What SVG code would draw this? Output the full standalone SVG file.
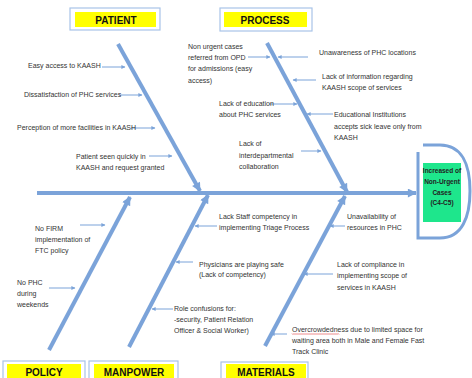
<svg xmlns="http://www.w3.org/2000/svg" width="472" height="378" viewBox="0 0 472 378">
<style>
.t{font-family:"Liberation Sans Narrow","Liberation Sans",Arial,sans-serif;font-size:7px;fill:#333}
.h{font-family:"Liberation Sans Narrow","Liberation Sans",Arial,sans-serif;font-size:10px;font-weight:bold;fill:#111;text-anchor:middle}
.g{font-family:"Liberation Sans Narrow","Liberation Sans",Arial,sans-serif;font-size:6.5px;font-weight:bold;fill:#222;text-anchor:middle}
.bone{stroke:#7ba3d9;stroke-width:4;fill:none;marker-end:url(#big)}
.thin{stroke:#7ba3d9;stroke-width:1;fill:none;marker-end:url(#small)}
.ob{fill:#fff;stroke:#a8c4e8;stroke-width:1.2}
.yb{fill:#ffff00}
</style>
<defs>
<marker id="big" viewBox="0 0 10 10" refX="9" refY="5" markerWidth="10" markerHeight="9" markerUnits="userSpaceOnUse" orient="auto"><path d="M0,0 L10,5 L0,10 z" fill="#7ba3d9"/></marker>
<marker id="small" viewBox="0 0 10 10" refX="9" refY="5" markerWidth="5" markerHeight="4" markerUnits="userSpaceOnUse" orient="auto"><path d="M0,0 L10,5 L0,10 z" fill="#7ba3d9"/></marker>
</defs>
<rect width="472" height="378" fill="#fff"/>

<g id="connectors">
<line class="bone" x1="37" y1="193" x2="416" y2="193"/>
<line class="bone" x1="118" y1="44" x2="200" y2="191"/>
<line class="bone" x1="267" y1="43" x2="347" y2="192"/>
<line class="bone" x1="49" y1="350" x2="130" y2="197"/>
<line class="bone" x1="129" y1="347" x2="208" y2="195"/>
<line class="bone" x1="265" y1="346" x2="345" y2="196"/>
<line class="thin" x1="102" y1="67" x2="125" y2="67"/>
<line class="thin" x1="119" y1="95" x2="142" y2="95"/>
<line class="thin" x1="131" y1="128" x2="155" y2="128"/>
<line class="thin" x1="149" y1="156" x2="172" y2="156"/>
<line class="thin" x1="248" y1="57" x2="270" y2="57"/>
<line class="thin" x1="308" y1="57" x2="278" y2="57"/>
<line class="thin" x1="316" y1="80" x2="293" y2="80"/>
<line class="thin" x1="269" y1="104" x2="297" y2="104"/>
<line class="thin" x1="333" y1="114" x2="307" y2="114"/>
<line class="thin" x1="301" y1="151" x2="321" y2="151"/>
<line class="thin" x1="80" y1="225" x2="105" y2="225"/>
<line class="thin" x1="49" y1="288" x2="75" y2="288"/>
<line class="thin" x1="217" y1="226" x2="195" y2="226"/>
<line class="thin" x1="193" y1="262" x2="176" y2="262"/>
<line class="thin" x1="173" y1="309" x2="152" y2="309"/>
<line class="thin" x1="345" y1="226" x2="330" y2="226"/>
<line class="thin" x1="333" y1="274" x2="304" y2="274"/>
<line class="thin" x1="287" y1="334" x2="271" y2="334"/>
</g>

<g id="head">
<path d="M423,145 H440 C462,145 470,165 470,191 C470,217 462,238 440,238 H418 V152" fill="none" stroke="#7ba3d9" stroke-width="3"/>
<rect x="423" y="163" width="38" height="59" fill="#1ee68c"/>
<text class="g" x="442" y="172.5">Increased of</text>
<text class="g" x="442" y="183.5">Non-Urgent</text>
<text class="g" x="442" y="194.5">Cases</text>
<text class="g" x="442" y="205">(C4-C5)</text>
</g>

<g id="patient">
<rect class="ob" x="70" y="8" width="90" height="22"/>
<rect class="yb" x="75" y="12" width="81" height="15"/>
<text class="h" x="116" y="23.5">PATIENT</text>
</g>
<g id="process">
<rect class="ob" x="220" y="8" width="92" height="23"/>
<rect class="yb" x="224" y="12" width="83" height="15"/>
<text class="h" x="265" y="23.5">PROCESS</text>
</g>
<g id="policy">
<rect class="ob" x="3" y="361" width="82" height="22"/>
<rect class="yb" x="7" y="364" width="74" height="20"/>
<text class="h" x="44" y="375.5">POLICY</text>
</g>
<g id="manpower">
<rect class="ob" x="89" y="361" width="89" height="22"/>
<rect class="yb" x="94" y="364" width="80" height="20"/>
<text class="h" x="134" y="375.5">MANPOWER</text>
</g>
<g id="materials">
<rect class="ob" x="221" y="362" width="87" height="22"/>
<rect class="yb" x="226" y="364" width="80" height="20"/>
<text class="h" x="266" y="375.5">MATERIALS</text>
</g>

<g id="patient-causes">
<text class="t" x="28" y="67.5">Easy access to KAASH</text>
<text class="t" x="24" y="96.5">Dissatisfaction of PHC services</text>
<text class="t" x="17" y="129.5">Perception of more facilities in KAASH</text>
<text class="t" x="76" y="158.5">Patient seen quickly in</text>
<text class="t" x="76" y="169.5">KAASH and request granted</text>
</g>
<g id="process-causes">
<text class="t" x="188" y="48.5">Non urgent cases</text>
<text class="t" x="188" y="59.5">referred from OPD</text>
<text class="t" x="188" y="71">for admissions (easy</text>
<text class="t" x="188" y="82.5">access)</text>
<text class="t" x="319" y="54.5">Unawareness of PHC locations</text>
<text class="t" x="322" y="78.5">Lack of information  regarding</text>
<text class="t" x="322" y="89.5">KAASH scope of services</text>
<text class="t" x="219" y="105.5">Lack of education</text>
<text class="t" x="219" y="117">about PHC services</text>
<text class="t" x="334" y="116.5">Educational  Institutions</text>
<text class="t" x="334" y="128.5">accepts sick leave only from</text>
<text class="t" x="334" y="139.5">KAASH</text>
<text class="t" x="239" y="145.5">Lack of</text>
<text class="t" x="239" y="157.5">interdepartmental</text>
<text class="t" x="239" y="168.5">collaboration</text>
</g>
<g id="policy-causes">
<text class="t" x="35" y="230.5">No FIRM</text>
<text class="t" x="35" y="241.5">implementation of</text>
<text class="t" x="35" y="252.5">FTC policy</text>
<text class="t" x="17" y="284.5">No PHC</text>
<text class="t" x="17" y="295.5">during</text>
<text class="t" x="17" y="306.5">weekends</text>
</g>
<g id="manpower-causes">
<text class="t" x="219" y="218.5">Lack Staff competency in</text>
<text class="t" x="219" y="229.5">implementing Triage Process</text>
<text class="t" x="199" y="266.5">Physicians are playing safe</text>
<text class="t" x="199" y="276.5">(Lack of competency)</text>
<text class="t" x="174" y="310.5">Role confusions for:</text>
<text class="t" x="174" y="321.5">-security, Patient Relation</text>
<text class="t" x="174" y="332.5">Officer &amp; Social Worker)</text>
</g>
<g id="materials-causes">
<text class="t" x="347" y="218.5">Unavailability  of</text>
<text class="t" x="347" y="229.5">resources in PHC</text>
<text class="t" x="337" y="266.5">Lack of compliance in</text>
<text class="t" x="337" y="278">implementing scope of</text>
<text class="t" x="337" y="289.5">services in KAASH</text>
<text class="t" x="292" y="331.5">Overcrowdedness due to limited space for</text>
<text class="t" x="292" y="342.5">waiting area both in Male and Female Fast</text>
<text class="t" x="292" y="353.5">Track Clinic</text>
<path d="M292,333.5 l1,1 l1,-1 l1,1 l1,-1 l1,1 l1,-1 l1,1 l1,-1 l1,1 l1,-1 l1,1 l1,-1 l1,1 l1,-1 l1,1 l1,-1 l1,1 l1,-1 l1,1 l1,-1 l1,1 l1,-1 l1,1 l1,-1 l1,1 l1,-1 l1,1 l1,-1 l1,1 l1,-1 l1,1 l1,-1 l1,1 l1,-1 l1,1 l1,-1 l1,1 l1,-1 l1,1 l1,-1 l1,1 l1,-1 l1,1 l1,-1 l1,1 l1,-1 l1,1" fill="none" stroke="#e03030" stroke-width="0.6"/>
</g>
</svg>
